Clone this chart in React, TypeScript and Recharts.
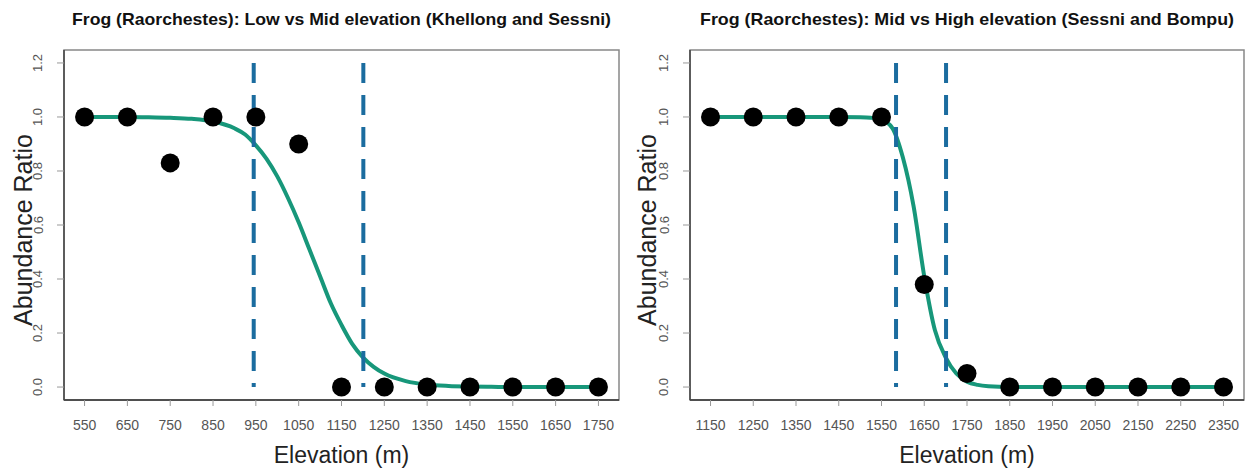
import React from 'react';
import { ComposedChart, Line, Scatter, XAxis, YAxis, ReferenceArea } from 'recharts';

// Panel 1: Low vs Mid elevation (Khellong and Sessni)
const lowMidElevation = [550, 650, 750, 850, 950, 1050, 1150, 1250, 1350, 1450, 1550, 1650, 1750];
const lowMidRatio = [1, 1, 0.83, 1, 1, 0.9, 0, 0, 0, 0, 0, 0, 0];
const lowMidFitX = [550, 600, 650, 700, 750, 800, 850, 900, 925, 950, 975, 1000, 1025, 1050, 1075, 1100, 1125, 1150, 1175, 1200, 1225, 1250, 1300, 1350, 1400, 1450, 1500, 1550, 1600, 1650, 1700, 1750];
const lowMidFitY = [1, 1, 1, 0.999, 0.997, 0.993, 0.983, 0.958, 0.935, 0.895, 0.845, 0.78, 0.7, 0.61, 0.51, 0.41, 0.31, 0.23, 0.16, 0.11, 0.075, 0.05, 0.022, 0.009, 0.004, 0.002, 0.001, 0, 0, 0, 0, 0];
const lowMidThresholds = [945, 1201];
const lowMidTicks = [550, 650, 750, 850, 950, 1050, 1150, 1250, 1350, 1450, 1550, 1650, 1750];

// Panel 2: Mid vs High elevation (Sessni and Bompu)
const midHighElevation = [1150, 1250, 1350, 1450, 1550, 1650, 1750, 1850, 1950, 2050, 2150, 2250, 2350];
const midHighRatio = [1, 1, 1, 1, 1, 0.38, 0.05, 0, 0, 0, 0, 0, 0];
const midHighFitX = [1150, 1200, 1250, 1300, 1350, 1400, 1450, 1500, 1525, 1550, 1575, 1600, 1625, 1650, 1675, 1700, 1725, 1750, 1775, 1800, 1850, 1900, 1950, 2050, 2150, 2250, 2350];
const midHighFitY = [1, 1, 1, 1, 1, 1, 1, 0.999, 0.997, 0.99, 0.96, 0.85, 0.67, 0.41, 0.21, 0.11, 0.05, 0.02, 0.008, 0.003, 0, 0, 0, 0, 0, 0, 0];
const midHighThresholds = [1584, 1701];
const midHighTicks = [1150, 1250, 1350, 1450, 1550, 1650, 1750, 1850, 1950, 2050, 2150, 2250, 2350];

const yTicks = [0, 0.2, 0.4, 0.6, 0.8, 1.0, 1.2];

const FONT = '"Liberation Sans", Arial, Helvetica, sans-serif';
const CURVE = '#17977a';
const DASH = '#1b6c9f';

const pairs = (xs: number[], ys: number[]) => xs.map((x, i) => ({ x, y: ys[i] }));

const XTick = (props: any) => {
  const { x, y, payload } = props;
  return (
    <text x={x} y={y + 22} textAnchor="middle" fontSize={14} fill="#555" fontFamily={FONT}>
      {payload.value}
    </text>
  );
};

const YTick = (props: any) => {
  const { x, y, payload } = props;
  const tx = x - 17;
  return (
    <text
      x={tx}
      y={y}
      textAnchor="middle"
      dominantBaseline="central"
      fontSize={13}
      fill="#555"
      fontFamily={FONT}
      transform={`rotate(-90, ${tx}, ${y})`}
    >
      {Number(payload.value).toFixed(1)}
    </text>
  );
};

const Dot = (props: any) => <circle cx={props.cx} cy={props.cy} r={9.5} fill="#000" />;

type PanelProps = {
  title: string;
  titleWidth: number;
  elevation: number[];
  ratio: number[];
  fitX: number[];
  fitY: number[];
  thresholds: number[];
  ticks: number[];
  width: number;
  left: number;
  right: number;
};

function Panel({ title, titleWidth, elevation, ratio, fitX, fitY, thresholds, ticks, width, left, right }: PanelProps) {
  const height = 468;
  const span = ticks[ticks.length - 1] - ticks[0];
  const xMin = ticks[0] - span * 0.04;
  const xMax = ticks[ticks.length - 1] + span * 0.04;
  const yMin = -0.048;
  const yMax = 1.248;
  const yAxisWidth = 60;
  const plotLeft = left + yAxisWidth;
  const plotRight = width - right;
  const plotCenter = (plotLeft + plotRight) / 2;
  const points = pairs(elevation, ratio);
  const fit = pairs(fitX, fitY);

  return (
    <div style={{ position: 'relative', width, height }}>
      <ComposedChart width={width} height={height} margin={{ top: 50, right, bottom: 38, left }}>
        <XAxis
          type="number"
          dataKey="x"
          domain={[xMin, xMax]}
          ticks={ticks}
          allowDataOverflow
          interval={0}
          tickSize={6}
          tickLine={{ stroke: '#999' }}
          axisLine={{ stroke: '#333', strokeWidth: 1.5 }}
          tick={<XTick />}
          height={30}
        />
        <YAxis
          type="number"
          dataKey="y"
          domain={[yMin, yMax]}
          ticks={yTicks}
          allowDataOverflow
          interval={0}
          tickSize={7}
          tickLine={{ stroke: '#999' }}
          axisLine={{ stroke: '#444', strokeWidth: 1.5 }}
          tick={<YTick />}
          width={yAxisWidth}
        />
        <ReferenceArea
          x1={xMin}
          x2={xMax}
          y1={yMin}
          y2={yMax}
          fill="none"
          stroke="#888"
          strokeWidth={1.5}
          ifOverflow="visible"
        />
        <Scatter data={points} dataKey="y" shape={<Dot />} isAnimationActive={false} />
        <Line
          data={fit}
          dataKey="y"
          type="monotone"
          stroke={CURVE}
          strokeWidth={4}
          dot={false}
          activeDot={false}
          isAnimationActive={false}
        />
        {thresholds.map((t) => (
          <Line
            key={t}
            data={[{ x: t, y: 1.2 }, { x: t, y: 0 }]}
            dataKey="y"
            type="linear"
            stroke={DASH}
            strokeWidth={4}
            strokeDasharray="20 12"
            dot={false}
            activeDot={false}
            isAnimationActive={false}
          />
        ))}
      </ComposedChart>
      <svg
        width={width}
        height={height}
        style={{ position: 'absolute', left: 0, top: 0, pointerEvents: 'none' }}
      >
        <text
          x={plotCenter}
          y={24.5}
          textAnchor="middle"
          fontSize={17}
          fontWeight="bold"
          fill="#111"
          fontFamily={FONT}
          textLength={titleWidth}
          lengthAdjust="spacingAndGlyphs"
        >
          {title}
        </text>
        <text x={plotCenter} y={463} textAnchor="middle" fontSize={23} fill="#222" fontFamily={FONT}>
          Elevation (m)
        </text>
        <text
          x={23}
          y={230}
          textAnchor="middle"
          dominantBaseline="central"
          fontSize={25}
          fill="#222"
          fontFamily={FONT}
          transform="rotate(-90, 23, 230)"
        >
          Abundance Ratio
        </text>
      </svg>
    </div>
  );
}

export default function App() {
  return (
    <div
      style={{
        position: 'absolute',
        left: 0,
        top: 0,
        width: 1247,
        height: 468,
        background: '#fff',
        display: 'flex',
      }}
    >
      <Panel
        title="Frog (Raorchestes): Low vs Mid elevation (Khellong and Sessni)"
        titleWidth={539}
        elevation={lowMidElevation}
        ratio={lowMidRatio}
        fitX={lowMidFitX}
        fitY={lowMidFitY}
        thresholds={lowMidThresholds}
        ticks={lowMidTicks}
        width={624}
        left={4}
        right={5}
      />
      <Panel
        title="Frog (Raorchestes): Mid vs High elevation (Sessni and Bompu)"
        titleWidth={534}
        elevation={midHighElevation}
        ratio={midHighRatio}
        fitX={midHighFitX}
        fitY={midHighFitY}
        thresholds={midHighThresholds}
        ticks={midHighTicks}
        width={623}
        left={6}
        right={3}
      />
    </div>
  );
}
